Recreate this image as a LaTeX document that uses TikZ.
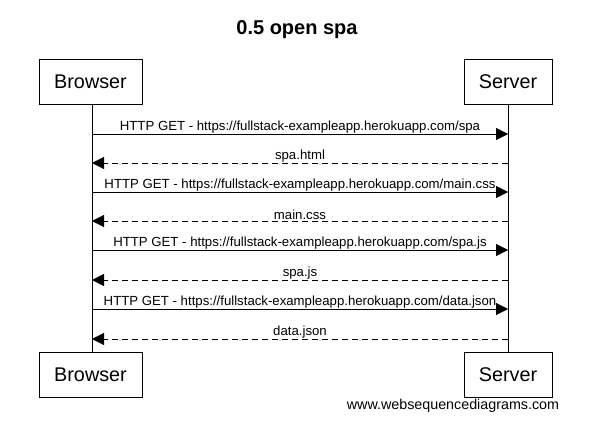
\documentclass[tikz,border=0pt]{standalone}
\usepackage{fontspec}
\setmainfont{Liberation Sans}
\usetikzlibrary{arrows.meta}

\begin{document}
\begin{tikzpicture}[x=1pt,y=-1pt]
		\tikzset{actor/.style={shape=rectangle,draw,minimum width=103pt,minimum height=45pt,font=\fontsize{19.8}{22}\selectfont},
			msg/.style={-{Triangle[length=12pt,width=12pt]}},
			reply/.style={msg,dash pattern=on 6pt off 4pt},
			lbl/.style={font=\fontsize{13.2}{15}\selectfont,inner sep=1pt}}
		\useasboundingbox (0,0) rectangle (598,447);
		\node (T) at (297,30) {\fontsize{20}{22}\selectfont\bfseries 0.5 open spa};
		\node (B) at (90.5,81.5) [actor] {Browser};
		\node (S) at (508,81.5) [actor,minimum width=88pt] {Server};
		\node (Bb) at (90.5,374.5) [actor] {Browser};
		\node (Sb) at (508,374.5) [actor,minimum width=88pt] {Server};
		\draw (92,104) coordinate (Btop) -- (92,352) coordinate (Bbot);
		\draw (508,104) coordinate (Stop) -- (508,352) coordinate (Sbot);
		\foreach \i/\y in {1/134,2/163,3/192,4/221,5/250,6/280,7/309,8/339} {
			\coordinate (b\i) at (92,\y);
			\coordinate (s\i) at (508,\y);
		}
		\path (b1) edge[msg] node[lbl,above]{HTTP GET - https://fullstack-exampleapp.herokuapp.com/spa} (s1)
		(s2) edge[reply] node[lbl,above]{spa.html} (b2)
		(b3) edge[msg] node[lbl,above]{HTTP GET - https://fullstack-exampleapp.herokuapp.com/main.css} (s3)
		(s4) edge[reply] node[lbl,above]{main.css} (b4)
		(b5) edge[msg] node[lbl,above]{HTTP GET - https://fullstack-exampleapp.herokuapp.com/spa.js} (s5)
		(s6) edge[reply] node[lbl,above]{spa.js} (b6)
		(b7) edge[msg] node[lbl,above]{HTTP GET - https://fullstack-exampleapp.herokuapp.com/data.json} (s7)
		(s8) edge[reply] node[lbl,above]{data.json} (b8);
		\node (W) at (453,406) [font=\fontsize{14.3}{16}\selectfont] {www.websequencediagrams.com};
	\end{tikzpicture}
\end{document}
